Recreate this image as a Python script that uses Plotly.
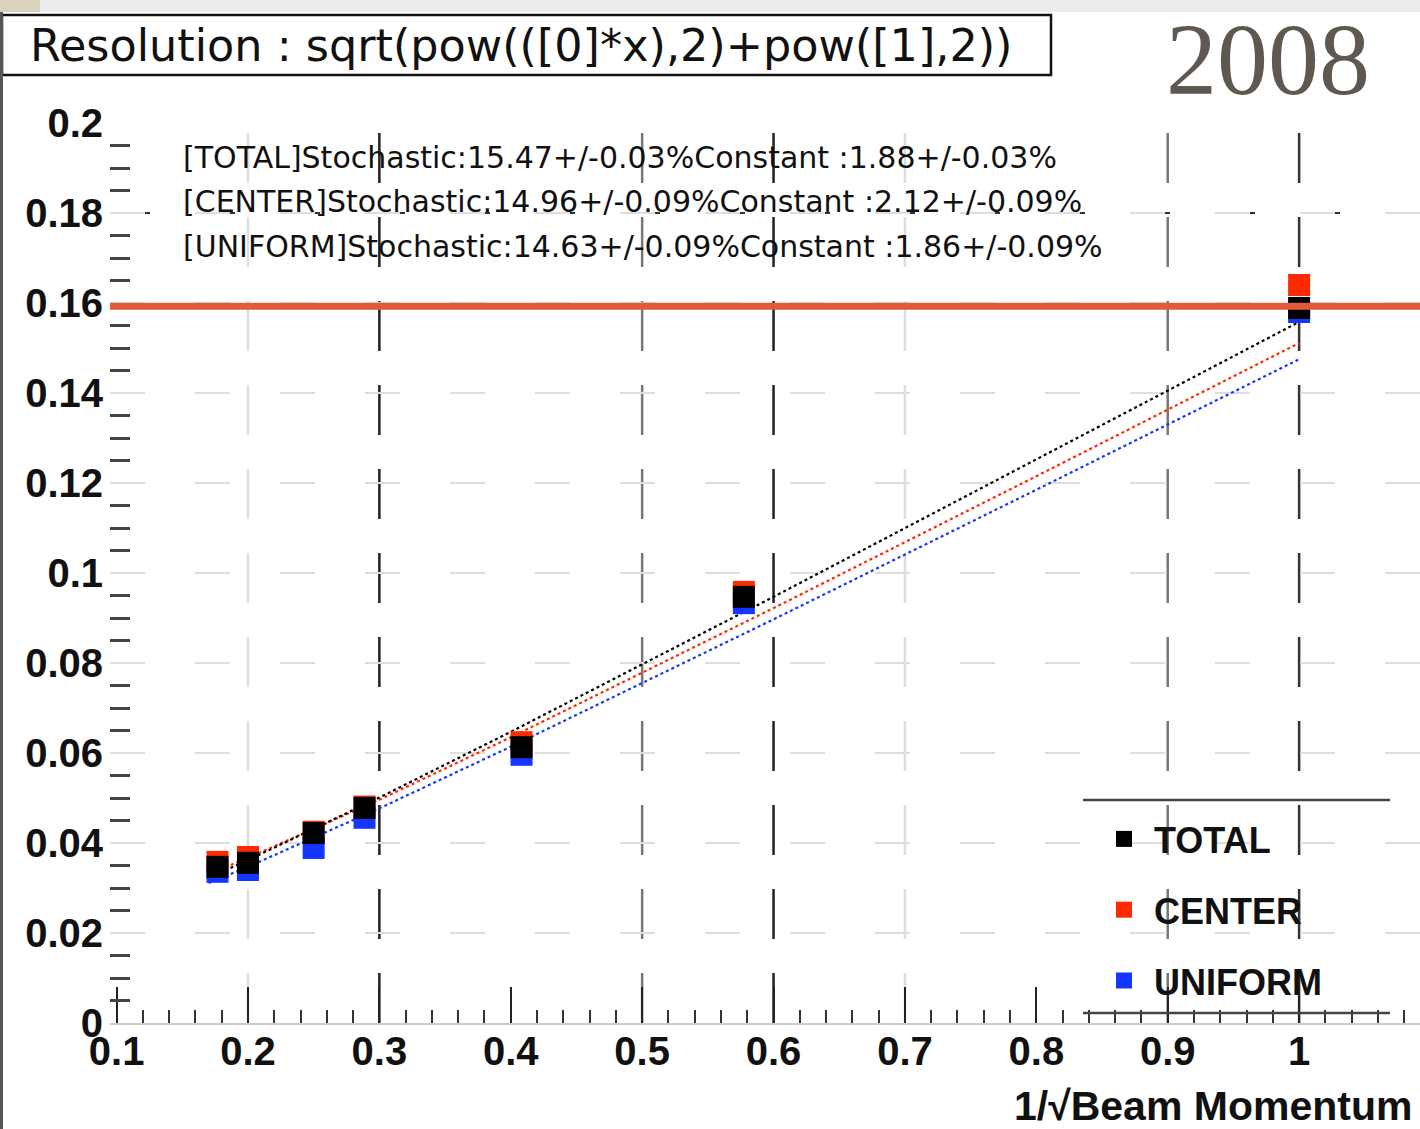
import plotly.graph_objects as go

# ---------------- data ----------------
beam_x = [0.1768, 0.2, 0.25, 0.2887, 0.4082, 0.5774, 1.0]   # 1/sqrt(p) for p = 32,25,16,12,6,3,1
total_res = [0.0347, 0.0356, 0.0422, 0.0478, 0.0613, 0.0947, 0.1589]
center_res = [0.0358, 0.0369, 0.0425, 0.0481, 0.0624, 0.0958, 0.1640]
uniform_res = [0.0336, 0.0340, 0.0389, 0.0456, 0.0596, 0.0933, 0.1580]

fit_x = [0.17, 0.2, 0.3, 0.4, 0.6, 0.8, 1.0]
total_fit = [0.0323, 0.0362, 0.0501, 0.0647, 0.0947, 0.1252, 0.1558]
center_fit = [0.0331, 0.0367, 0.0496, 0.0635, 0.0922, 0.1215, 0.1511]
uniform_fit = [0.0311, 0.0347, 0.0477, 0.0614, 0.0897, 0.1185, 0.1475]

fit_labels = [
    "[TOTAL]Stochastic:15.47+/-0.03%Constant :1.88+/-0.03%",
    "[CENTER]Stochastic:14.96+/-0.09%Constant :2.12+/-0.09%",
    "[UNIFORM]Stochastic:14.63+/-0.09%Constant :1.86+/-0.09%",
]
series_names = ["TOTAL", "CENTER", "UNIFORM"]
series_colors = ["#000000", "#ff2a00", "#1436ff"]

reference_level = 0.1593
xgrid_vals = [0.2, 0.3, 0.5, 0.6, 0.7, 0.9, 1.0]
xgrid_cols = ["#dddddd", "#222222", "#777777", "#222222", "#dddddd", "#777777", "#333333"]

title_text = "Resolution : sqrt(pow(([0]*x),2)+pow([1],2))"
year_text = "2008"
x_title = "1/\u221aBeam Momentum"

# ---------------- geometry helpers (layout decorations only) ----------------
W, H = 1420, 1129
PL, PR, PT, PB = 110, 1420, 123, 1023


def px2x(px):
    return (px - PL) / (PR - PL)


def py2y(py):
    return (PB - py) / (PB - PT)


fig = go.Figure()

# fit curves (dotted)
for fy, col in zip([uniform_fit, center_fit, total_fit], series_colors[::-1]):
    fig.add_trace(go.Scatter(x=fit_x, y=fy, mode="lines", showlegend=False,
                             line=dict(color=col, width=2.2, dash="dot"),
                             hoverinfo="skip"))

# data points: uniform first, then center, total on top
order = [(2, uniform_res), (1, center_res), (0, total_res)]
for idx, ys in order:
    fig.add_trace(go.Scatter(
        x=beam_x, y=ys, mode="markers", name=series_names[idx],
        legendgroup=series_names[idx], legendrank=idx + 1,
        marker=dict(symbol="square", size=22, color=series_colors[idx],
                    line=dict(width=0)),
    ))

shapes = []
# vertical dashed grid lines
for gx, gc in zip(xgrid_vals, xgrid_cols):
    shapes.append(dict(type="line", xref="x", yref="paper", x0=gx, x1=gx, y0=0, y1=1,
                       line=dict(color=gc, width=2.5, dash="50px,34px"), layer="below"))
# darker dashed at 0.18
shapes.append(dict(type="line", xref="paper", yref="y", x0=0, x1=1, y0=0.18, y1=0.18,
                   line=dict(color="#333333", width=2, dash="40px,45px"), layer="below"))
# red reference line
shapes.append(dict(type="line", xref="paper", yref="y", x0=0, x1=1,
                   y0=reference_level, y1=reference_level,
                   line=dict(color="#e25a3c", width=7), layer="above"))
# legend top/bottom rules
for py in (800, 1013):
    shapes.append(dict(type="line", xref="paper", yref="paper",
                       x0=px2x(1083), x1=px2x(1390), y0=py2y(py), y1=py2y(py),
                       line=dict(color="#444444", width=2.5)))
# top grey strip
shapes.append(dict(type="rect", xref="paper", yref="paper", x0=px2x(0), x1=px2x(1420),
                   y0=py2y(12), y1=py2y(0), line=dict(width=0), fillcolor="#ececec"))
shapes.append(dict(type="rect", xref="paper", yref="paper", x0=px2x(0), x1=px2x(40),
                   y0=py2y(12), y1=py2y(0), line=dict(width=0), fillcolor="#d9d3bd"))
# title box
shapes.append(dict(type="rect", xref="paper", yref="paper", x0=px2x(2), x1=px2x(1051),
                   y0=py2y(75), y1=py2y(15), line=dict(color="#111111", width=2.5),
                   fillcolor="white"))
# left border
shapes.append(dict(type="line", xref="paper", yref="paper", x0=px2x(1.5), x1=px2x(1.5),
                   y0=py2y(1129), y1=py2y(12), line=dict(color="#555555", width=3)))

annotations = []
for i, txt in enumerate(fit_labels):
    annotations.append(dict(xref="paper", yref="paper", x=px2x(181), y=py2y([157, 201, 246][i]),
                            text=txt, showarrow=False, xanchor="left", yanchor="middle",
                            font=dict(family="DejaVu Sans", size=30, color="#111111")))
annotations.append(dict(xref="paper", yref="paper", x=px2x(28), y=py2y(46), text=title_text,
                        showarrow=False, xanchor="left", yanchor="middle",
                        font=dict(family="DejaVu Sans", size=44.5, color="#111111")))
annotations.append(dict(xref="paper", yref="paper", x=px2x(1268), y=py2y(60), text=year_text,
                        showarrow=False, xanchor="center", yanchor="middle",
                        font=dict(family="Liberation Serif", size=102, color="#5e5850")))
annotations.append(dict(xref="paper", yref="paper", x=px2x(1414), y=py2y(1106), text=x_title,
                        showarrow=False, xanchor="right", yanchor="middle",
                        height=44, valign="middle",
                        font=dict(family="Liberation Sans", size=41, color="#111111",
                                  weight="bold")))

tickfont = dict(family="Liberation Sans", size=40, color="#111111", weight="bold")

fig.update_layout(
    width=W, height=H,
    margin=dict(l=PL, r=W - PR, t=PT, b=H - PB, pad=0),
    paper_bgcolor="white", plot_bgcolor="white",
    shapes=shapes, annotations=annotations,
    showlegend=True,
    legend=dict(x=px2x(1094), y=py2y(809), xanchor="left", yanchor="top",
                font=dict(family="Liberation Sans", size=36, color="#111111", weight="bold"),
                bgcolor="rgba(0,0,0,0)", borderwidth=0, tracegroupgap=21,
                traceorder="grouped", itemwidth=50),
    xaxis=dict(range=[0.095, 1.092], dtick=0.1, tick0=0.1, showgrid=False,
               zeroline=False, showline=True, linecolor="#cccccc", linewidth=2,
               ticks="inside", ticklen=36, tickwidth=2, tickcolor="#222222",
               minor=dict(dtick=0.02, ticks="inside", ticklen=13, tickwidth=2,
                          tickcolor="#333333", showgrid=False),
               tickfont=tickfont, ticklabelstandoff=-8),
    yaxis=dict(range=[0, 0.2], dtick=0.02, tick0=0, showgrid=True, gridcolor="#dedede",
               gridwidth=2, griddash="35px,50px", zeroline=False, showline=False,
               ticks="", minor=dict(dtick=0.005, ticks="inside", ticklen=20, tickwidth=2.5,
                                    tickcolor="#444444", showgrid=False),
               tickfont=tickfont, ticklabelstandoff=6),
)

fig.write_html("out.html")
